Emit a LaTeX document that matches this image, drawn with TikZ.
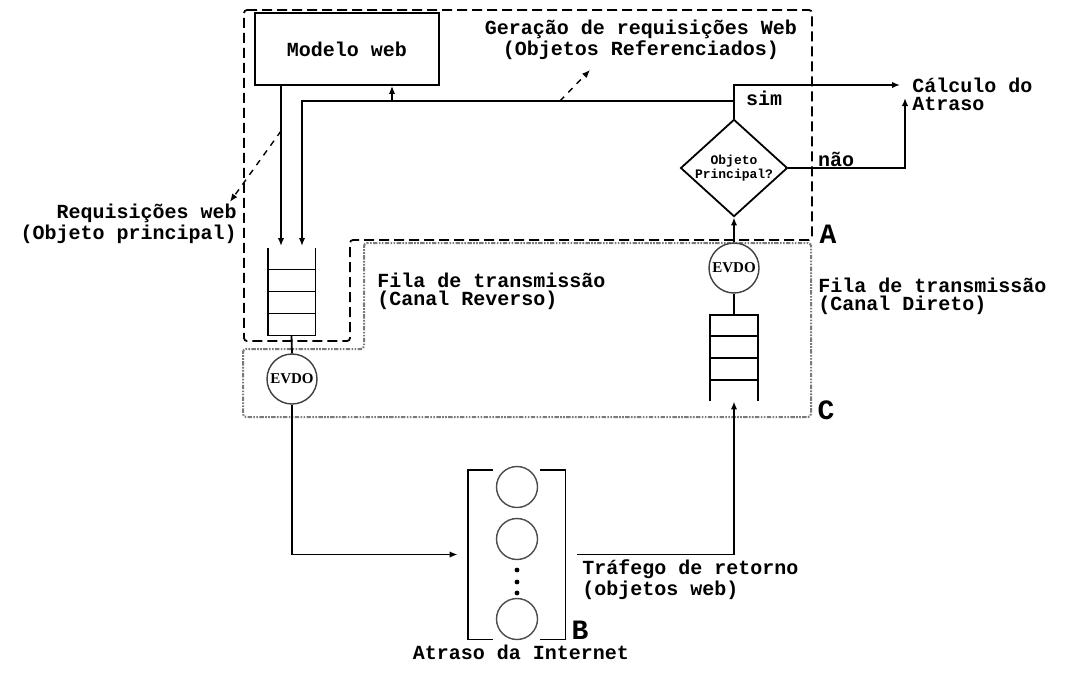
\documentclass[tikz,border=0pt]{standalone}
\usepackage{fontspec}
\setmainfont{Liberation Serif}
\setmonofont{Liberation Mono}
\newfontfamily\evdofont{Liberation Serif}
\usepackage{tikz}
\usetikzlibrary{calc, shapes.geometric, arrows.meta}
\definecolor{regiaoC}{HTML}{7A7A7A}

\begin{document}
\begin{tikzpicture}[x=0.5pt, y=-0.5pt,
    linha/.style={line width=0.9pt},
    seta/.style={linha, -{Latex[length=4pt, width=3.2pt]}},
    rotulo/.style={font=\fontsize{10}{9}\selectfont\ttfamily\bfseries, inner sep=0pt},
    letra/.style={font=\fontsize{14}{14}\selectfont\ttfamily\bfseries, inner sep=0pt},
    evdo/.style={circle, draw=black!75, line width=0.7pt, minimum size=25pt, inner sep=0pt,
        font=\fontsize{7.5}{7.5}\selectfont\evdofont\bfseries},
    bola/.style={circle, draw=black!70, line width=0.7pt, minimum size=20.5pt, inner sep=0pt}]
    \useasboundingbox[fill=white] (0,0) rectangle (1066,680);

    \draw[line width=0.9pt, dash pattern=on 5pt off 2.5pt, rounded corners=1.5pt]
        (244,10) -- (812,10) -- (812,240) -- (350,240) -- (350,341) -- (244,341) -- cycle;
    \draw[regiaoC, line width=1pt, dash pattern=on 0.8pt off 0.7pt on 0.8pt off 0.7pt on 2.2pt off 0.7pt,
        rounded corners=1.5pt]
        (364,243) -- (811,243) -- (811,417) -- (243,417) -- (243,349) -- (364,349) -- cycle;

    \node[draw, linha, minimum width=92pt, minimum height=36pt, rotulo] (modelo) at (347,49) {Modelo web};
    \node[draw, linha, shape=diamond, aspect=1.1, minimum width=50.5pt, minimum height=46pt, inner sep=0pt,
        align=center, font=\fontsize{6.5}{6}\selectfont\ttfamily\bfseries] (decisao) at (734,168)
        {Objeto\\Principal?};

    \node[minimum width=23.5pt, minimum height=43.5pt, inner sep=0pt] (filaRev) at (291.5,291.5) {};
    \draw[linha] (filaRev.north west) -- (filaRev.south west) -- (filaRev.south east) -- (filaRev.north east);
    \foreach \k in {1,2,3}
        \draw[linha] ($(filaRev.north west)!\k/4!(filaRev.south west)$) -- ($(filaRev.north east)!\k/4!(filaRev.south east)$);

    \node[minimum width=23.5pt, minimum height=43pt, inner sep=0pt] (filaDir) at (734,358) {};
    \draw[linha] (filaDir.south west) -- (filaDir.north west) -- (filaDir.north east) -- (filaDir.south east);
    \foreach \k in {1,2,3}
        \draw[linha] ($(filaDir.north west)!\k/4!(filaDir.south west)$) -- ($(filaDir.north east)!\k/4!(filaDir.south east)$);

    \node[evdo] (evdoRev) at (292,379) {EVDO};
    \node[evdo] (evdoDir) at (734,268) {EVDO};

    \node[minimum width=48.5pt, minimum height=84.5pt, inner sep=0pt] (internet) at (516.5,554.5) {};
    \draw[linha] ([xshift=12.5pt]internet.north west) -- (internet.north west) -- (internet.south west) -- ++(12.5pt,0);
    \draw[linha] ([xshift=-12.5pt]internet.north east) -- (internet.north east) -- (internet.south east) -- ++(-12.5pt,0);
    \node[bola] (bola1) at (517,487) {};
    \node[bola] (bola2) at (517,539) {};
    \node[bola] (bola3) at (517,619) {};
    \foreach \y in {570,582,593}
        \fill (517,\y) circle (1.2pt);

    \node[rotulo, align=center] (geracao) at (641,40) {Geração de requisições Web\\(Objetos Referenciados)};
    \node[rotulo, align=right, anchor=east] (requisicoes) at (237,224) {Requisições web\\(Objeto principal)};
    \node[rotulo, align=left, anchor=west] (filaRevTxt) at (377,291) {Fila de transmissão\\(Canal Reverso)};
    \node[rotulo, align=left, anchor=west] (filaDirTxt) at (818,296) {Fila de transmissão\\(Canal Direto)};
    \node[rotulo, align=left, anchor=west] (calculo) at (912,94) {Cálculo do\\Atraso};
    \node[rotulo, align=left, anchor=west] (trafego) at (582,580) {Tráfego de retorno\\(objetos web)};
    \node[rotulo] (internetTxt) at (521,652) {Atraso da Internet};
    \node[rotulo] (sim) at (764,98) {sim};
    \node[rotulo] (nao) at (836,159) {não};
    \node[letra] (letraA) at (828,234) {A};
    \node[letra] (letraB) at (580,630) {B};
    \node[letra] (letraC) at (826,410) {C};

    \coordinate (entA) at (281,246);
    \coordinate (entB) at (302,246);
    \coordinate (barra) at (302,101);
    \coordinate (retModelo) at (392,101);
    \coordinate (simFim) at (900,85);
    \coordinate (naoFim) at (905,98);
    \coordinate (geraPonto) at (560,101);
    \coordinate (geraFim) at (590,70);
    \coordinate (reqPonto) at (281,131);

    \draw[seta] (modelo.south -| entA) -- (entA);
    \draw[seta] (decisao.north |- barra) -| (entB);
    \draw[seta] (retModelo) -- (retModelo |- modelo.south);
    \draw[seta] (decisao.north) |- (simFim);
    \draw[seta] (decisao.east) -| (naoFim);
    \draw[seta] (evdoDir.north) -- (decisao.south);
    \draw[linha] (evdoDir.south) -- (filaDir.north);
    \draw[linha] (filaRev.south) -- (evdoRev.north);
    \draw[seta] (evdoRev.south) |- ([xshift=-5pt]internet.west);
    \draw[seta] ([xshift=6pt]internet.east) -| (filaDir.south);
    \draw[seta, dashed, line width=0.7pt] (geraPonto) -- (geraFim);
    \draw[seta, dashed, line width=0.7pt] (reqPonto) -- ([xshift=-3.5pt,yshift=1pt]requisicoes.north east);
\end{tikzpicture}
\end{document}
